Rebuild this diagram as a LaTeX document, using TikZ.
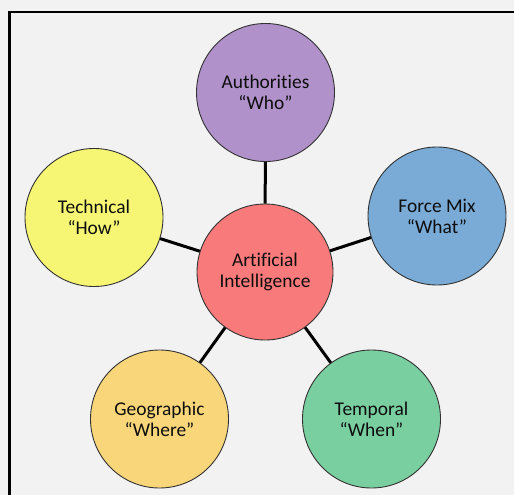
\documentclass[tikz,border=0pt]{standalone}
\usepackage{fontspec}
\setmainfont[Ligatures={NoCommon,NoContextual}]{Carlito}
\definecolor{bg}{RGB}{242,242,242}
\definecolor{cpurple}{RGB}{176,145,202}
\definecolor{cyellow}{RGB}{246,246,116}
\definecolor{cblue}{RGB}{122,171,214}
\definecolor{corange}{RGB}{249,214,122}
\definecolor{cgreen}{RGB}{122,207,160}
\definecolor{cred}{RGB}{249,122,122}
\definecolor{edge}{RGB}{50,50,50}
\tikzset{
  bubble/.style={circle, draw=edge, line width=0.9bp, minimum size=138bp, inner sep=0pt,
    align=center, font=\fontsize{19.5}{21}\selectfont, text=black!95},
  link/.style={line width=3bp, black}
}
\begin{document}
\begin{tikzpicture}[x=1bp,y=-1bp]
\fill[bg] (0,0) rectangle (514,495);
\useasboundingbox (0,0) rectangle (514,495);
\draw[line width=2.8bp, black] (9.5,500) -- (9.5,12) -- (520,12);
\node[bubble, fill=cred, minimum size=136bp] (ai) at (265,272) {Artificial\\Intelligence};
\node[bubble, fill=cpurple] (who) at (265.5,92.5) {Authorities\\“Who”};
\node[bubble, fill=cyellow] (how) at (94,217.5) {Technical\\“How”};
\node[bubble, fill=cblue] (what) at (437,216) {Force Mix\\“What”};
\node[bubble, fill=corange] (where) at (159.5,419) {Geographic\\“Where”};
\node[bubble, fill=cgreen] (when) at (371.5,419) {Temporal\\“When”};
\draw[link] (ai) -- (who);
\draw[link] (ai) -- (how);
\draw[link] (ai) -- (what);
\draw[link] (ai) -- (where);
\draw[link] (ai) -- (when);
\end{tikzpicture}
\end{document}
